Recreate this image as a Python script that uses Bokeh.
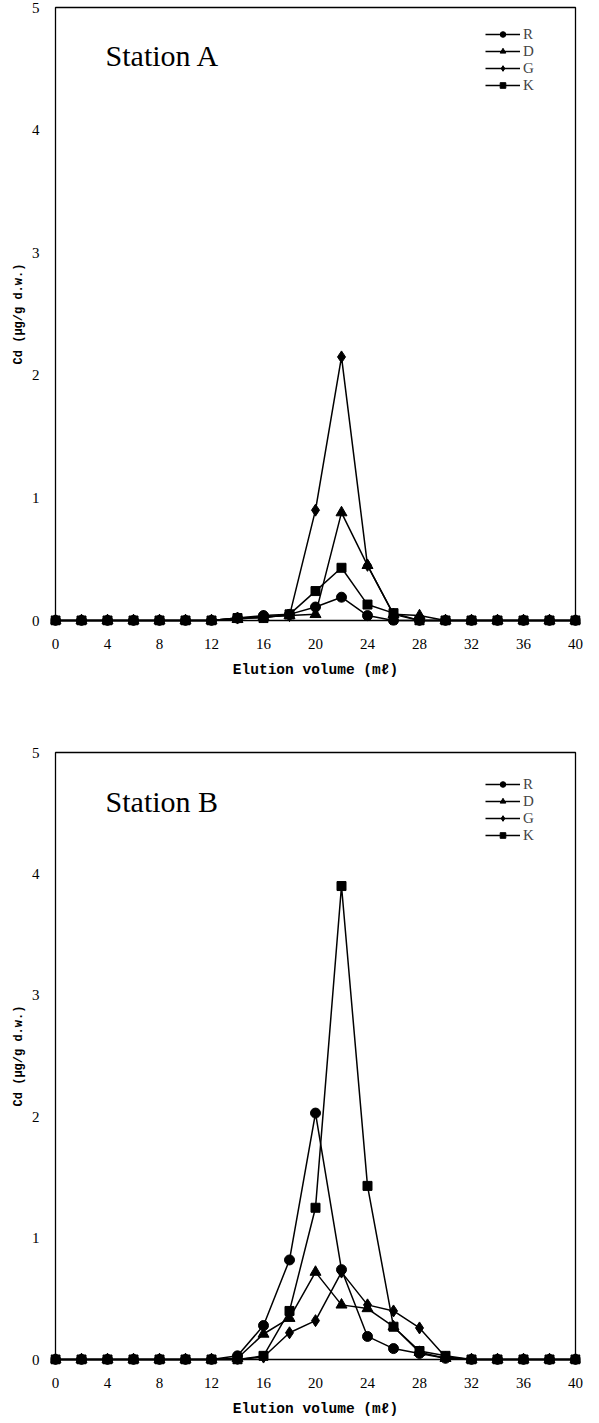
from bokeh.plotting import figure
from bokeh.models import Legend, LegendItem, Label, FixedTicker, Range1d
from bokeh.layouts import column
from bokeh.embed import file_html
from bokeh.resources import INLINE

# ---------------- data ----------------
elution = [0, 2, 4, 6, 8, 10, 12, 14, 16, 18, 20, 22, 24, 26, 28, 30, 32, 34, 36, 38, 40]

a_R = [0, 0, 0, 0, 0, 0, 0, 0.02, 0.04, 0.05, 0.11, 0.19, 0.04, 0.0, 0.0, 0, 0, 0, 0, 0, 0]
a_D = [0, 0, 0, 0, 0, 0, 0, 0.01, 0.03, 0.04, 0.05, 0.88, 0.45, 0.05, 0.04, 0, 0, 0, 0, 0, 0]
a_G = [0, 0, 0, 0, 0, 0, 0, 0.02, 0.03, 0.04, 0.90, 2.15, 0.45, 0.05, 0.0, 0, 0, 0, 0, 0, 0]
a_K = [0, 0, 0, 0, 0, 0, 0, 0.02, 0.02, 0.05, 0.24, 0.43, 0.13, 0.06, 0.0, 0, 0, 0, 0, 0, 0]

b_R = [0, 0, 0, 0, 0, 0, 0, 0.03, 0.28, 0.82, 2.03, 0.74, 0.19, 0.09, 0.05, 0.01, 0, 0, 0, 0, 0]
b_D = [0, 0, 0, 0, 0, 0, 0, 0.01, 0.21, 0.34, 0.72, 0.45, 0.42, 0.27, 0.06, 0.01, 0, 0, 0, 0, 0]
b_G = [0, 0, 0, 0, 0, 0, 0, 0.0, 0.02, 0.22, 0.32, 0.72, 0.45, 0.40, 0.26, 0.02, 0, 0, 0, 0, 0]
b_K = [0, 0, 0, 0, 0, 0, 0, 0.0, 0.03, 0.40, 1.25, 3.90, 1.43, 0.27, 0.07, 0.03, 0, 0, 0, 0, 0]

series_names = ["R", "D", "G", "K"]
x_ticks = [0, 4, 8, 12, 16, 20, 24, 28, 32, 36, 40]
y_ticks = [0, 1, 2, 3, 4, 5]
X_MIN, X_MAX = 0, 40
Y_MIN, Y_MAX = 0, 5

x_title = "Elution volume (m\u2113)"
y_title = "Cd (\u03bcg/g d.w.)"

markers = {"R": ("circle", 10), "D": ("triangle", 11), "G": ("diamond", 12), "K": ("square", 9)}

SERIF = "Liberation Serif"
MONO = "Liberation Mono"


def make_chart(station, data, frame_h, mb_top, mb_bottom, mb_left, legend_top, station_y):
    px = 5  # padding in px so edge markers are not clipped
    xpad = (X_MAX - X_MIN) * px / 520
    ypad = (Y_MAX - Y_MIN) * px / frame_h
    fh = frame_h + 2 * px
    p = figure(
        frame_width=520 + 2 * px, frame_height=fh,
        x_range=Range1d(X_MIN - xpad, X_MAX + xpad),
        y_range=Range1d(Y_MIN - ypad, Y_MAX + ypad),
        output_backend="svg", toolbar_location=None,
        min_border_left=mb_left, min_border_right=8,
        min_border_top=mb_top, min_border_bottom=mb_bottom,
        background_fill_color="white", border_fill_color="white",
    )
    p.grid.visible = False
    p.outline_line_color = None

    # plot box
    p.quad(left=[X_MIN], right=[X_MAX], bottom=[Y_MIN], top=[Y_MAX],
           fill_color=None, line_color="black", line_width=1.3)

    for ax in (p.xaxis[0], p.yaxis[0]):
        ax.axis_line_color = None
        ax.major_tick_line_color = None
        ax.minor_tick_line_color = None
        ax.major_label_text_font = SERIF
        ax.major_label_text_font_size = "15px"
        ax.major_label_text_color = "black"
        ax.axis_label_text_font = MONO
        ax.axis_label_text_font_style = "bold"
        ax.axis_label_text_color = "black"

    p.xaxis.ticker = FixedTicker(ticks=x_ticks)
    p.yaxis.ticker = FixedTicker(ticks=y_ticks)
    p.xaxis.major_label_standoff = 7
    p.yaxis.major_label_standoff = 5
    p.xaxis.axis_label = x_title
    p.yaxis.axis_label = y_title
    p.xaxis.axis_label_text_font_size = "14.5px"
    p.yaxis.axis_label_text_font_size = "12px"
    p.xaxis.axis_label_standoff = 10
    p.yaxis.axis_label_standoff = 3

    items = []
    for name in series_names:
        vals = data[name]
        mk, sz = markers[name]
        ln = p.line(elution, vals, line_color="black", line_width=1.5)
        sc = p.scatter(elution, vals, marker=mk, size=sz,
                       fill_color="black", line_color="black")
        items.append(LegendItem(label=name, renderers=[ln, sc]))

    legend_h = 4 * 17
    legend = Legend(items=items, location=(435, fh - legend_top - legend_h),
                    padding=0, margin=0, border_line_color=None,
                    background_fill_alpha=0, glyph_width=35, glyph_height=14,
                    label_height=14, spacing=0, label_standoff=3,
                    label_text_font=SERIF, label_text_font_size="15px")
    p.add_layout(legend, "center")

    p.add_layout(Label(x=3.85, y=station_y, text=station, text_baseline="middle",
                       text_font=SERIF, text_font_size="30px", text_color="black"))
    return p


pA = make_chart("Station A", {"R": a_R, "D": a_D, "G": a_G, "K": a_K},
                frame_h=613, mb_top=2, mb_bottom=62, mb_left=50, legend_top=23.5,
                station_y=4.61)
pB = make_chart("Station B", {"R": b_R, "D": b_D, "G": b_G, "K": b_K},
                frame_h=607, mb_top=60, mb_bottom=52, mb_left=46, legend_top=28.5,
                station_y=4.60)

layout = column(pA, pB, spacing=0)
open("out.html", "w").write(file_html(layout, INLINE))
